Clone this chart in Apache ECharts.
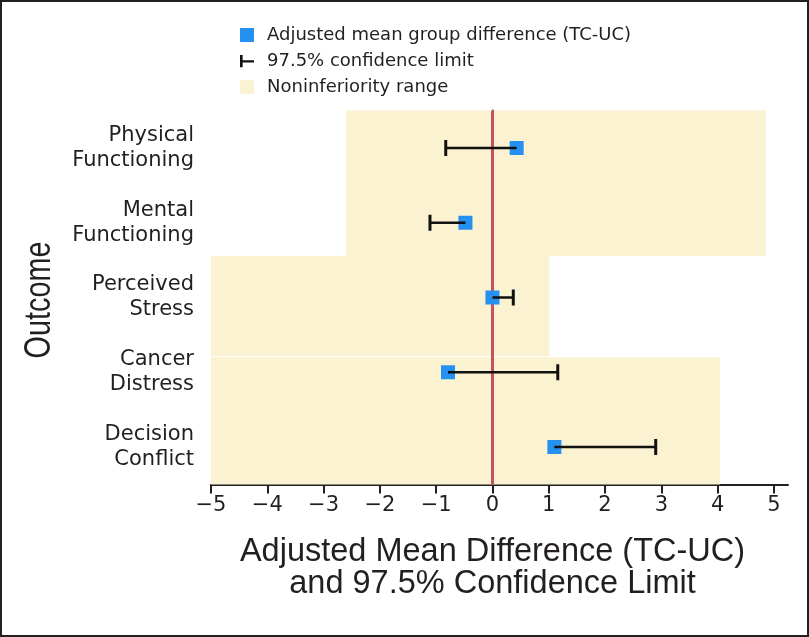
<!DOCTYPE html>
<html>
<head>
<meta charset="utf-8">
<script src="https://cdn.jsdelivr.net/npm/echarts@6/dist/echarts.min.js"></script>
<style>html,body{margin:0;padding:0;background:#fff}#c{width:809px;height:637px}</style>
</head>
<body>
<div id="c"></div>
<script>
// ---- data ----
var outcomes = ['Physical\nFunctioning', 'Mental\nFunctioning', 'Perceived\nStress', 'Cancer\nDistress', 'Decision\nConflict'];
var meanDiff = [0.43, -0.48, 0.0, -0.79, 1.10];
var ciLimit = [-0.83, -1.11, 0.37, 1.16, 2.90];
// noninferiority ranges (x from, x to) and the outcome span they cover (category index units)
var nonInfLow = [-2.6, -5, -5];
var nonInfHigh = [4.86, 1.01, 4.04];
var nonInfTop = [-0.5, 1.445, 2.80];
var nonInfBottom = [1.445, 2.785, 4.5];
var xTicks = [-5, -4, -3, -2, -1, 0, 1, 2, 3, 4, 5];
var refLine = 0;

var FONT = 'DejaVu Sans';
var INK = '#231f20';
var BLUE = '#2490f0';
var BEIGE = '#faf2d0';
var RED = '#c4525f';

var chart = echarts.init(document.getElementById('c'), null, {renderer: 'canvas'});

var shadeData = nonInfLow.map(function (v, i) { return [v, nonInfHigh[i], nonInfTop[i], nonInfBottom[i]]; });
var pointData = meanDiff.map(function (v, i) { return [v, i]; });
var barData = meanDiff.map(function (v, i) { return [v, ciLimit[i], i]; });
var fmtMinus = function (v) { return String(v).replace('-', '\u2212'); };

chart.setOption({
  animation: false,
  backgroundColor: '#fff',
  grid: {left: 211, right: 21, top: 110.6, bottom: 152.6, containLabel: false},
  legend: {
    orient: 'vertical', left: 240, top: 25, padding: 0, itemGap: 6,
    itemWidth: 14, itemHeight: 14,
    textStyle: {fontFamily: FONT, fontSize: 18, color: INK, lineHeight: 20, padding: [0, 0, 0, 8]},
    data: [
      {name: 'Adjusted mean group difference (TC-UC)', icon: 'rect'},
      {name: '97.5% confidence limit', icon: 'path://M0,0 L3,0 L3,14 L0,14 Z M0,6 L16,6 L16,8.6 L0,8.6 Z'},
      {name: 'Noninferiority range', icon: 'rect'}
    ]
  },
  xAxis: {
    type: 'value', min: -5, max: 5.25,
    axisLine: {show: true, onZero: false, lineStyle: {color: INK, width: 2}},
    axisTick: {show: true, length: 9, lineStyle: {color: INK, width: 2}, customValues: xTicks},
    axisLabel: {fontFamily: FONT, fontSize: 21, color: INK, margin: 11, customValues: xTicks, formatter: fmtMinus},
    splitLine: {show: false},
    name: 'Adjusted Mean Difference (TC-UC)\nand 97.5% Confidence Limit',
    nameLocation: 'middle', nameGap: 52,
    nameTextStyle: {fontFamily: 'Liberation Sans', fontSize: 32.5, color: INK, lineHeight: 32, verticalAlign: 'top', padding: [0, 14, 0, 0]}
  },
  yAxis: [{
    type: 'category', data: outcomes, inverse: true,
    axisLine: {show: true, lineStyle: {color: INK, width: 2}},
    axisTick: {show: true, alignWithLabel: true, length: 11, lineStyle: {color: INK, width: 2}},
    axisLabel: {fontFamily: FONT, fontSize: 21, color: INK, margin: 17, lineHeight: 25, align: 'right'},
    splitLine: {show: false}
  }, {
    type: 'value', inverse: true, min: -0.5, max: 4.5, show: false
  }],
  series: [{
    name: 'Noninferiority range', type: 'custom', yAxisIndex: 1, z: 1,
    itemStyle: {color: BEIGE},
    data: shadeData,
    renderItem: function (params, api) {
      var p1 = api.coord([api.value(0), api.value(2)]);
      var p2 = api.coord([api.value(1), api.value(3)]);
      return {type: 'rect', shape: {x: p1[0], y: p1[1], width: p2[0] - p1[0], height: p2[1] - p1[1]}, style: {fill: BEIGE}};
    },
    markLine: {
      silent: true, symbol: 'none', z: 2, label: {show: false},
      lineStyle: {color: RED, width: 3, type: 'solid'},
      data: [{xAxis: refLine}]
    }
  }, {
    name: 'Adjusted mean group difference (TC-UC)', type: 'scatter', z: 3,
    symbol: 'rect', symbolSize: 14,
    itemStyle: {color: BLUE, opacity: 1},
    data: pointData
  }, {
    name: '97.5% confidence limit', type: 'custom', z: 4,
    itemStyle: {color: '#111'},
    data: barData,
    renderItem: function (params, api) {
      var a = api.coord([api.value(0), api.value(2)]);
      var b = api.coord([api.value(1), api.value(2)]);
      var st = {stroke: '#111', lineWidth: 2.5};
      return {type: 'group', children: [
        {type: 'line', shape: {x1: a[0], y1: a[1], x2: b[0], y2: b[1]}, style: st},
        {type: 'line', shape: {x1: b[0], y1: b[1] - 8, x2: b[0], y2: b[1] + 8}, style: {stroke: '#111', lineWidth: 3}}
      ]};
    }
  }],
  graphic: [{
    type: 'rect', silent: true, z: 100,
    shape: {x: 1, y: 1, width: 807, height: 635},
    style: {fill: 'none', stroke: INK, lineWidth: 2}
  }, {
    type: 'text', silent: true, z: 100,
    x: 40, y: 300, rotation: Math.PI / 2, scaleX: 0.8,
    style: {text: 'Outcome', font: '36px "Liberation Sans"', fill: INK, align: 'center', verticalAlign: 'middle'}
  }]
});
</script>
</body>
</html>
